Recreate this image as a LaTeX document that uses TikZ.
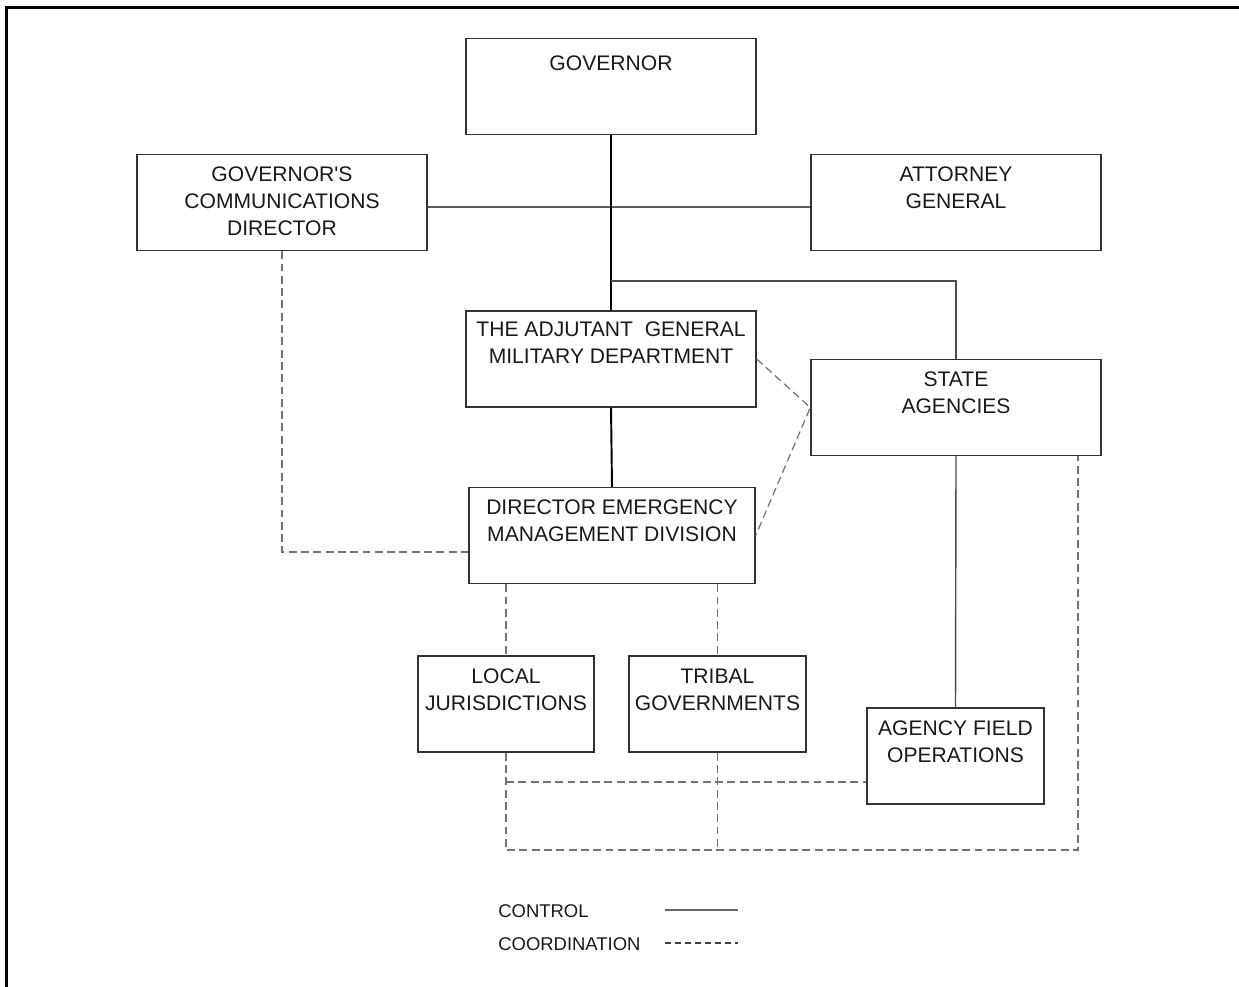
\documentclass[tikz,border=0pt]{standalone}
\usepackage{fontspec}
\setmainfont{Liberation Sans}
\usetikzlibrary{positioning}
\tikzset{
    orgbox/.style={draw=black!80, line width=0.8pt, inner sep=0pt},
    orgtext/.style={inner sep=0pt, align=center, text=black!90,
        font=\fontsize{12}{15.4}\selectfont},
    control/.style={draw=black!85, line width=0.8pt},
    coordination/.style={draw=black!55, line width=0.7pt, dash pattern=on 4.5pt off 2.5pt},
    legendtext/.style={inner sep=0pt, anchor=west, text=black!90,
        font=\fontsize{10.5}{12}\selectfont}
}
\newcommand\OrgBox[6][0.26]{%
    \node[orgbox, minimum width=#5cm, minimum height=1.92cm] (#2) at (#3,#4) {};
    \node[orgtext, below=#1cm of #2.north] (#2-text) {#6};
}

\begin{document}
\begin{tikzpicture}
    \useasboundingbox (0,0) rectangle (24.78,-19.72);
    \draw[line width=1.6pt] (0.13,-21) -- (0.13,-0.15) -- (26,-0.15);
    % boxes
    \OrgBox[0.35]{gov}{12.22}{-1.73}{5.8}{GOVERNOR}
    \OrgBox{comm}{5.64}{-4.05}{5.8}{GOVERNOR\textquotesingle S\\COMMUNICATIONS\\DIRECTOR}
    \OrgBox{atty}{19.12}{-4.05}{5.8}{ATTORNEY\\GENERAL}
    \OrgBox[0.23]{tag}{12.22}{-7.18}{5.8}{THE ADJUTANT\ \ GENERAL\\MILITARY DEPARTMENT}
    \OrgBox{state}{19.12}{-8.15}{5.8}{STATE\\AGENCIES}
    \OrgBox[0.25]{dir}{12.24}{-10.71}{5.72}{DIRECTOR EMERGENCY\\MANAGEMENT DIVISION}
    \OrgBox{local}{10.12}{-14.08}{3.52}{LOCAL\\JURISDICTIONS}
    \OrgBox{tribal}{14.35}{-14.08}{3.54}{TRIBAL\\GOVERNMENTS}
    \OrgBox{field}{19.11}{-15.12}{3.54}{AGENCY FIELD\\OPERATIONS}
    \coordinate (branch) at (12.22,-5.62);
    \coordinate (busR) at (21.56,-17.0);
    \begin{scope}[control] % control
        \draw[black!65, line width=0.7pt] ([yshift=-0.09cm]comm.east) -- ([yshift=-0.09cm]atty.west);
        \draw[line width=1.1pt, black] (gov.south) -- (tag.north);
        \draw[black!70] (branch) -| (state.north);
        \draw[line width=1.1pt, black] (tag.south) -- (dir.north);
        \draw[black!70] (state.south) -- (field.north);
    \end{scope}
    \begin{scope}[coordination] % coordination
        \draw (comm.south) |- ([yshift=-0.33cm]dir.west);
        \draw (tag.east) -- (state.west) -- (dir.east);
        \draw (dir.south -| local.north) -- (local.north);
        \draw (dir.south -| tribal.north) -- (tribal.north);
        \draw (local.south) |- (busR) -- (busR |- state.south);
        \draw (tribal.south) -- (tribal.south |- busR);
        \draw (local.south |- field.west) ++(0,-0.52) -- ([yshift=-0.52cm]field.west);
    \end{scope}
    % legend
    \node[legendtext] (ctrl-lbl) at (9.96,-18.22) {CONTROL};
    \node[legendtext] (coord-lbl) at (9.96,-18.88) {COORDINATION};
    \coordinate (ctrl-a) at (13.3,-18.2);
    \coordinate (coord-a) at (13.3,-18.86);
    \draw[draw=black!60, line width=0.7pt] (ctrl-a) -- +(1.46,0);
    \draw[draw=black!75, line width=0.7pt, dash pattern=on 3.4pt off 2.3pt] (coord-a) -- +(1.46,0);
\end{tikzpicture}
\end{document}
